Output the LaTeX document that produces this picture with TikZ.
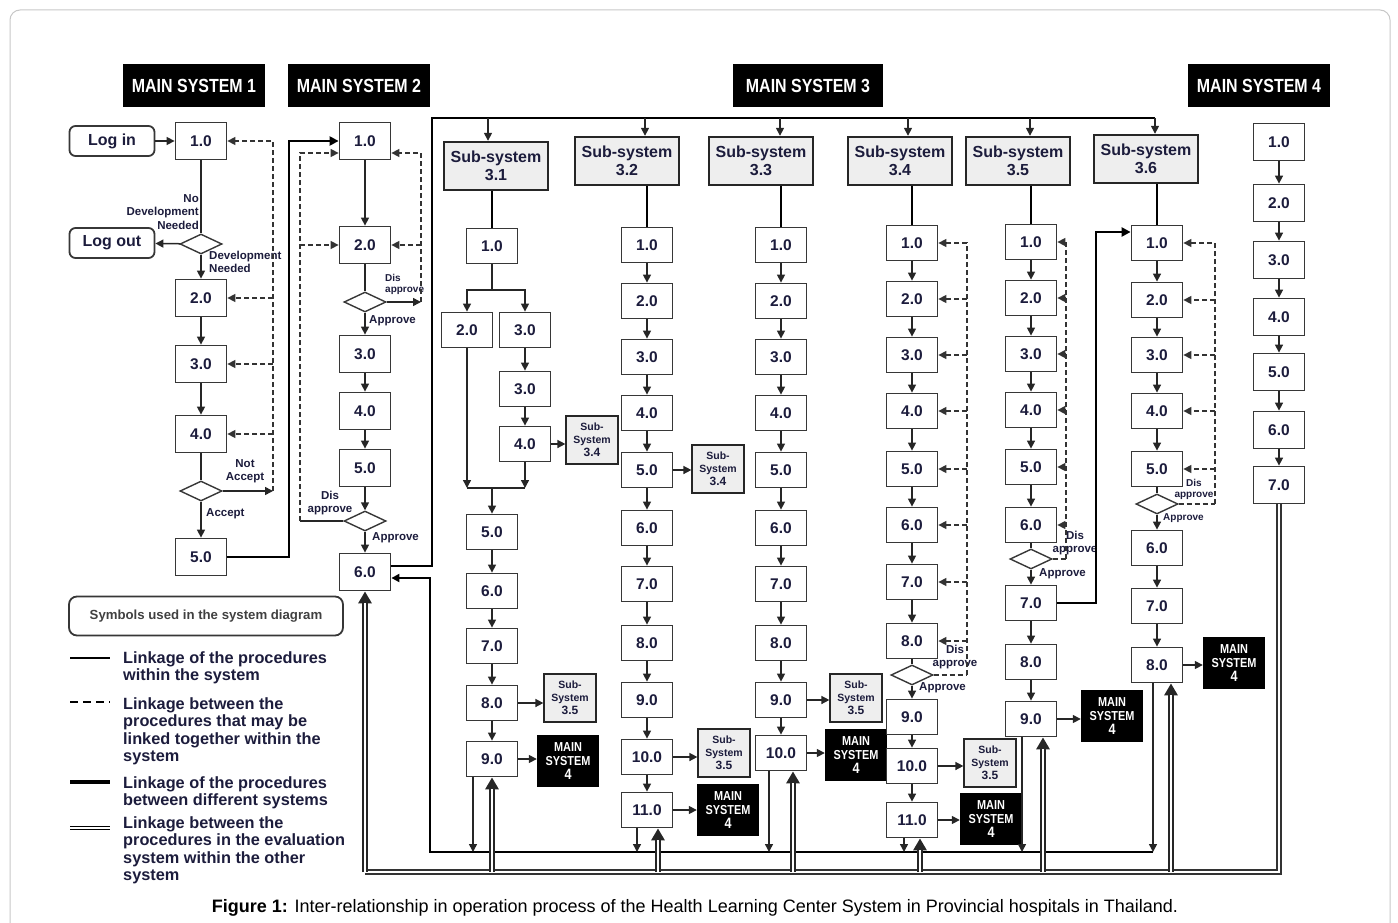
\documentclass[tikz,border=0pt]{standalone}
\usepackage{fontspec}
\setmainfont{Liberation Sans}
\newfontfamily\condfont[FakeStretch=0.84]{Liberation Sans}
\usetikzlibrary{arrows.meta,positioning,shapes.geometric,calc}
\definecolor{inktext}{RGB}{28,28,60}
\definecolor{boxline}{RGB}{55,55,55}
\definecolor{subfill}{RGB}{238,238,238}
\newcommand\fsz[2]{\fontsize{#1}{#2}\selectfont}
\tikzset{
  mainhead/.style={
    rectangle,
    fill=black,
    text=white,
    minimum width=142pt,
    minimum height=43pt,
    inner sep=0pt,
    font=\condfont\bfseries\fsz{19}{21}
  },
  proc/.style={
    rectangle,
    draw=boxline,
    line width=1.8pt,
    fill=white,
    text=inktext,
    minimum width=51pt,
    minimum height=35pt,
    inner sep=0pt,
    font=\bfseries\fsz{15.5}{17}
  },
  mproc/.style={proc, minimum height=37pt},
  subhead/.style={
    rectangle,
    draw=black!85,
    line width=2.4pt,
    fill=subfill,
    text=inktext,
    align=center,
    minimum width=104pt,
    minimum height=48pt,
    inner sep=0pt,
    font=\bfseries\fsz{16}{18}
  },
  subref/.style={
    rectangle,
    draw=black!85,
    line width=1.2pt,
    fill=subfill,
    text=inktext,
    align=center,
    minimum width=52pt,
    minimum height=48pt,
    inner sep=0pt,
    font=\bfseries\fsz{10.5}{13}
  },
  ms4ref/.style={
    rectangle,
    fill=black,
    text=white,
    align=center,
    minimum width=62pt,
    minimum height=52pt,
    inner sep=0pt,
    font=\condfont\bfseries\fsz{13}{14}
  },
  decide/.style={
    diamond,
    draw=boxline,
    line width=1.4pt,
    fill=white,
    minimum width=42pt,
    minimum height=20pt,
    inner sep=0pt
  },
  logbox/.style={
    rectangle,
    rounded corners=6pt,
    draw=boxline,
    line width=1.8pt,
    text=inktext,
    minimum width=85pt,
    minimum height=30pt,
    inner sep=0pt,
    font=\bfseries\fsz{16}{18}
  },
  note/.style={inner sep=0pt, text=inktext, align=center, font=\bfseries\fsz{11.5}{13.5}},
  smallnote/.style={note, font=\bfseries\fsz{10}{11}},
  legendtxt/.style={anchor=north west, inner sep=0pt, align=left, text=inktext, font=\bfseries\fsz{16.3}{17.6}},
  solidline/.style={line width=1.5pt, draw=black!85},
  link/.style={solidline, -{Triangle[length=8pt,width=8pt]}},
  dplain/.style={line width=1.5pt, draw=black!80, dash pattern=on 5pt off 3pt},
  dlink/.style={dplain, -{Triangle[length=8pt,width=8pt]}},
  syslink/.style={line width=2.6pt, draw=black},
  sysarrow/.style={syslink, -{Triangle[length=9pt,width=9pt]}},
  collect/.style={line width=2pt, draw=black, -{Triangle[length=8pt,width=8pt]}},
  evallink/.style={draw=black!80, line width=1.3pt, double=white, double distance=2.6pt},
  evalarrow/.style={draw=black!85, line width=5.4pt, -{Triangle[length=12pt,width=13pt]},
    postaction={draw=white, line width=2.4pt, -, shorten >=12pt}}
}

\begin{document}
\begin{tikzpicture}[x=1pt, y=-1pt]
  \useasboundingbox (0,0) rectangle (1398,923);
  \draw[black!22, line width=1pt, rounded corners=10pt] (10,10) rectangle (1390,950);

  % main system headers
  \node[mainhead] (ms1) at (194,86) {MAIN SYSTEM 1};
  \node[mainhead] (ms2) at (359,86) {MAIN SYSTEM 2};
  \node[mainhead, minimum width=150pt] (ms3) at (808,86) {MAIN SYSTEM 3};
  \node[mainhead] (ms4) at (1259,86) {MAIN SYSTEM 4};

  % main system 1
  \node[logbox] (login) at (112,141) {Log in};
  \node[mproc] (m1n1) at (201,141) {1.0};
  \node[decide] (m1d1) at (201,244) {};
  \node[logbox] (logout) at (112,243) {Log out};
  \node[mproc] (m1n2) at (201,298) {2.0};
  \node[mproc] (m1n3) at (201,364) {3.0};
  \node[mproc] (m1n4) at (201,434) {4.0};
  \node[decide] (m1d2) at (201,491) {};
  \node[mproc] (m1n5) at (201,557) {5.0};
  \node[note, anchor=east, align=right] (m1no) at (199,212) {No\\Development\\Needed};
  \node[note, anchor=west, align=left] (m1yes) at (209,262) {Development\\Needed};
  \node[note] (m1rej) at (245,471) {Not\\Accept};
  \node[note, anchor=west] (m1acc) at (206,514) {Accept};
  \coordinate (m1back) at (273,491);

  \draw[link] (login) -- (m1n1);
  \draw[solidline] (m1n1) -- (m1d1);
  \draw[link] (m1d1) -- (logout);
  \draw[link] (m1d1) -- (m1n2);
  \draw[link] (m1n2) -- (m1n3);
  \draw[link] (m1n3) -- (m1n4);
  \draw[solidline] (m1n4) -- (m1d2);
  \draw[link] (m1d2) -- (m1n5);
  \draw[link] (m1d2) -- (m1back);
  \draw[dlink] (m1back) |- (m1n1);
  \draw[dlink] (m1n2 -| m1back) -- (m1n2);
  \draw[dlink] (m1n3 -| m1back) -- (m1n3);
  \draw[dlink] (m1n4 -| m1back) -- (m1n4);

  % main system 2
  \node[mproc] (m2n1) at (365,141) {1.0};
  \node[mproc] (m2n2) at (365,245) {2.0};
  \node[decide] (m2d1) at (365,302) {};
  \node[mproc] (m2n3) at (365,354) {3.0};
  \node[mproc] (m2n4) at (365,411) {4.0};
  \node[mproc] (m2n5) at (365,468) {5.0};
  \node[decide] (m2d2) at (365,521) {};
  \node[mproc] (m2n6) at (365,572) {6.0};
  \node[smallnote, anchor=west, align=left] (m2dis1) at (385,284) {Dis\\approve};
  \node[note, anchor=west] (m2app1) at (369,321) {Approve};
  \node[note] (m2dis2) at (330,503) {Dis\\approve};
  \node[note, anchor=west] (m2app2) at (372,538) {Approve};
  \coordinate (m12) at (289,141);
  \coordinate (m2back) at (421,302);
  \coordinate (m2left) at (300,521);

  \draw[sysarrow] (m1n5) -| (m12) -- (m2n1);
  \draw[link] (m2n1) -- (m2n2);
  \draw[solidline] (m2n2) -- (m2d1);
  \draw[link] (m2d1) -- (m2n3);
  \draw[link] (m2n3) -- (m2n4);
  \draw[link] (m2n4) -- (m2n5);
  \draw[link] (m2n5) -- (m2d2);
  \draw[link] (m2d2) -- (m2n6);
  \draw[link] (m2d1) -- (m2back);
  \draw[dlink] (m2back) |- ([yshift=-12pt]m2n1.east);
  \draw[dlink] (m2n2 -| m2back) -- (m2n2);
  \draw[solidline] (m2d2) -- (m2left);
  \draw[dlink] (m2left) |- ([yshift=-12pt]m2n1.west);
  \draw[dlink] (m2n2 -| m2left) -- (m2n2);

  % main system 3: bus and sub-system headers
  \coordinate (busL) at (432,118);
  \coordinate (busR) at (1155,118);
  \coordinate (b31) at (488,118);
  \coordinate (b32) at (645,118);
  \coordinate (b33) at (780,118);
  \coordinate (b34) at (908,118);
  \coordinate (b35) at (1030,118);
  \node[subhead] (s31h) at (496,166) {Sub-system\\3.1};
  \node[subhead] (s32h) at (627,161) {Sub-system\\3.2};
  \node[subhead] (s33h) at (761,161) {Sub-system\\3.3};
  \node[subhead] (s34h) at (900,161) {Sub-system\\3.4};
  \node[subhead] (s35h) at (1018,161) {Sub-system\\3.5};
  \node[subhead] (s36h) at (1146,159) {Sub-system\\3.6};

  \draw[syslink] ([yshift=6pt]m2n6.east) -| (busL) -- (busR);
  \draw[link] (b31) -- (b31 |- s31h.north);
  \draw[link] (b32) -- (b32 |- s32h.north);
  \draw[link] (b33) -- (b33 |- s33h.north);
  \draw[link] (b34) -- (b34 |- s34h.north);
  \draw[link] (b35) -- (b35 |- s35h.north);
  \draw[link] (busR) -- (busR |- s36h.north);

  % sub-system 3.1
  \node[proc] (s31n1) at (492,246) {1.0};
  \node[proc] (s31n2) at (467,330) {2.0};
  \node[proc] (s31n3) at (525,330) {3.0};
  \node[proc] (s31n3b) at (525,389) {3.0};
  \node[proc] (s31n4) at (525,444) {4.0};
  \node[subref] (s31ref1) at (592,440) {Sub-\\System\\{\fsz{12}{13}3.4}};
  \node[proc] (s31n5) at (492,532) {5.0};
  \node[proc] (s31n6) at (492,591) {6.0};
  \node[proc] (s31n7) at (492,646) {7.0};
  \node[proc] (s31n8) at (492,703) {8.0};
  \node[proc] (s31n9) at (492,759) {9.0};
  \node[subref] (s31ref2) at (570,698) {Sub-\\System\\{\fsz{12}{13}3.5}};
  \node[ms4ref] (s31ms4) at (568,761) {MAIN\\SYSTEM\\{\fsz{15}{15}4}};
  \coordinate (s31fork) at (492,290);
  \coordinate (s31join) at (492,488);

  \draw[syslink] (s31n1 |- s31h.south) -- (s31n1);
  \draw[solidline] (s31n1) -- (s31fork);
  \draw[link] (s31fork) -| (s31n2);
  \draw[link] (s31fork) -| (s31n3);
  \draw[link] (s31n3) -- (s31n3b);
  \draw[link] (s31n3b) -- (s31n4);
  \draw[link] (s31n4) -- (s31n4 -| s31ref1.west);
  \draw[link] (s31n2) -- (s31n2 |- s31join);
  \draw[link] (s31n4) -- (s31n4 |- s31join);
  \draw[solidline] (s31n2 |- s31join) -- (s31n4 |- s31join);
  \draw[link] (s31join) -- (s31n5);
  \draw[link] (s31n5) -- (s31n6);
  \draw[link] (s31n6) -- (s31n7);
  \draw[link] (s31n7) -- (s31n8);
  \draw[link] (s31n8) -- (s31n9);
  \draw[link] (s31n8) -- (s31n8 -| s31ref2.west);
  \draw[link] (s31n9) -- (s31n9 -| s31ms4.west);

  % sub-system 3.2
  \node[proc] (s32n1) at (647,245) {1.0};
  \node[proc] (s32n2) at (647,301) {2.0};
  \node[proc] (s32n3) at (647,357) {3.0};
  \node[proc] (s32n4) at (647,413) {4.0};
  \node[proc] (s32n5) at (647,470) {5.0};
  \node[subref] (s32ref1) at (718,469) {Sub-\\System\\{\fsz{12}{13}3.4}};
  \node[proc] (s32n6) at (647,528) {6.0};
  \node[proc] (s32n7) at (647,584) {7.0};
  \node[proc] (s32n8) at (647,643) {8.0};
  \node[proc] (s32n9) at (647,700) {9.0};
  \node[proc] (s32n10) at (647,757) {10.0};
  \node[subref] (s32ref2) at (724,753) {Sub-\\System\\{\fsz{12}{13}3.5}};
  \node[proc] (s32n11) at (647,810) {11.0};
  \node[ms4ref] (s32ms4) at (728,810) {MAIN\\SYSTEM\\{\fsz{15}{15}4}};

  \draw[syslink] (s32n1 |- s32h.south) -- (s32n1);
  \draw[link] (s32n1) -- (s32n2);
  \draw[link] (s32n2) -- (s32n3);
  \draw[link] (s32n3) -- (s32n4);
  \draw[link] (s32n4) -- (s32n5);
  \draw[link] (s32n5) -- (s32n6);
  \draw[link] (s32n6) -- (s32n7);
  \draw[link] (s32n7) -- (s32n8);
  \draw[link] (s32n8) -- (s32n9);
  \draw[link] (s32n9) -- (s32n10);
  \draw[link] (s32n10) -- (s32n11);
  \draw[link] (s32n5) -- (s32n5 -| s32ref1.west);
  \draw[link] (s32n10) -- (s32n10 -| s32ref2.west);
  \draw[link] (s32n11) -- (s32n11 -| s32ms4.west);

  % sub-system 3.3
  \node[proc] (s33n1) at (781,245) {1.0};
  \node[proc] (s33n2) at (781,301) {2.0};
  \node[proc] (s33n3) at (781,357) {3.0};
  \node[proc] (s33n4) at (781,413) {4.0};
  \node[proc] (s33n5) at (781,470) {5.0};
  \node[proc] (s33n6) at (781,528) {6.0};
  \node[proc] (s33n7) at (781,584) {7.0};
  \node[proc] (s33n8) at (781,643) {8.0};
  \node[proc] (s33n9) at (781,700) {9.0};
  \node[subref] (s33ref) at (856,698) {Sub-\\System\\{\fsz{12}{13}3.5}};
  \node[proc] (s33n10) at (781,753) {10.0};
  \node[ms4ref] (s33ms4) at (856,755) {MAIN\\SYSTEM\\{\fsz{15}{15}4}};

  \draw[syslink] (s33n1 |- s33h.south) -- (s33n1);
  \draw[link] (s33n1) -- (s33n2);
  \draw[link] (s33n2) -- (s33n3);
  \draw[link] (s33n3) -- (s33n4);
  \draw[link] (s33n4) -- (s33n5);
  \draw[link] (s33n5) -- (s33n6);
  \draw[link] (s33n6) -- (s33n7);
  \draw[link] (s33n7) -- (s33n8);
  \draw[link] (s33n8) -- (s33n9);
  \draw[link] (s33n9) -- (s33n10);
  \draw[link] (s33n9) -- (s33n9 -| s33ref.west);
  \draw[link] (s33n10) -- (s33n10 -| s33ms4.west);

  % sub-system 3.4
  \node[proc] (s34n1) at (912,243) {1.0};
  \node[proc] (s34n2) at (912,299) {2.0};
  \node[proc] (s34n3) at (912,355) {3.0};
  \node[proc] (s34n4) at (912,411) {4.0};
  \node[proc] (s34n5) at (912,469) {5.0};
  \node[proc] (s34n6) at (912,525) {6.0};
  \node[proc] (s34n7) at (912,582) {7.0};
  \node[proc] (s34n8) at (912,641) {8.0};
  \node[decide] (s34d) at (912,675) {};
  \node[proc] (s34n9) at (912,717) {9.0};
  \node[proc] (s34n10) at (912,766) {10.0};
  \node[subref] (s34ref) at (990,763) {Sub-\\System\\{\fsz{12}{13}3.5}};
  \node[proc] (s34n11) at (912,820) {11.0};
  \node[ms4ref] (s34ms4) at (991,819) {MAIN\\SYSTEM\\{\fsz{15}{15}4}};
  \node[note] (s34dis) at (955,657) {Dis\\approve};
  \node[note, anchor=west] (s34app) at (919,688) {Approve};
  \coordinate (s34back) at (967,675);

  \draw[syslink] (s34n1 |- s34h.south) -- (s34n1);
  \draw[link] (s34n1) -- (s34n2);
  \draw[link] (s34n2) -- (s34n3);
  \draw[link] (s34n3) -- (s34n4);
  \draw[link] (s34n4) -- (s34n5);
  \draw[link] (s34n5) -- (s34n6);
  \draw[link] (s34n6) -- (s34n7);
  \draw[link] (s34n7) -- (s34n8);
  \draw[solidline] (s34n8) -- (s34d);
  \draw[link] (s34d) -- (s34n9);
  \draw[link] (s34n9) -- (s34n10);
  \draw[link] (s34n10) -- (s34n11);
  \draw[link] (s34n10) -- (s34n10 -| s34ref.west);
  \draw[link] (s34n11) -- (s34n11 -| s34ms4.west);
  \draw[dplain] (s34d) -- (s34back);
  \draw[dlink] (s34back) |- (s34n1);
  \draw[dlink] (s34n2 -| s34back) -- (s34n2);
  \draw[dlink] (s34n3 -| s34back) -- (s34n3);
  \draw[dlink] (s34n4 -| s34back) -- (s34n4);
  \draw[dlink] (s34n5 -| s34back) -- (s34n5);
  \draw[dlink] (s34n6 -| s34back) -- (s34n6);
  \draw[dlink] (s34n7 -| s34back) -- (s34n7);
  \draw[dlink] (s34n8 -| s34back) -- (s34n8);

  % sub-system 3.5
  \node[proc] (s35n1) at (1031,242) {1.0};
  \node[proc] (s35n2) at (1031,298) {2.0};
  \node[proc] (s35n3) at (1031,354) {3.0};
  \node[proc] (s35n4) at (1031,410) {4.0};
  \node[proc] (s35n5) at (1031,467) {5.0};
  \node[proc] (s35n6) at (1031,525) {6.0};
  \node[decide] (s35d) at (1031,559) {};
  \node[proc] (s35n7) at (1031,603) {7.0};
  \node[proc] (s35n8) at (1031,662) {8.0};
  \node[proc] (s35n9) at (1031,719) {9.0};
  \node[ms4ref] (s35ms4) at (1112,716) {MAIN\\SYSTEM\\{\fsz{15}{15}4}};
  \node[note] (s35dis) at (1075,543) {Dis\\approve};
  \node[note, anchor=west] (s35app) at (1039,574) {Approve};
  \coordinate (s35back) at (1066,559);
  \coordinate (s56) at (1096,603);

  \draw[syslink] (s35n1 |- s35h.south) -- (s35n1);
  \draw[link] (s35n1) -- (s35n2);
  \draw[link] (s35n2) -- (s35n3);
  \draw[link] (s35n3) -- (s35n4);
  \draw[link] (s35n4) -- (s35n5);
  \draw[link] (s35n5) -- (s35n6);
  \draw[solidline] (s35n6) -- (s35d);
  \draw[link] (s35d) -- (s35n7);
  \draw[link] (s35n7) -- (s35n8);
  \draw[link] (s35n8) -- (s35n9);
  \draw[link] (s35n9) -- (s35n9 -| s35ms4.west);
  \draw[dplain] (s35d) -- (s35back);
  \draw[dlink] (s35back) |- (s35n1);
  \draw[dlink] (s35n2 -| s35back) -- (s35n2);
  \draw[dlink] (s35n3 -| s35back) -- (s35n3);
  \draw[dlink] (s35n4 -| s35back) -- (s35n4);
  \draw[dlink] (s35n5 -| s35back) -- (s35n5);
  \draw[dlink] (s35n6 -| s35back) -- (s35n6);

  % sub-system 3.6
  \node[proc] (s36n1) at (1157,243) {1.0};
  \node[proc] (s36n2) at (1157,300) {2.0};
  \node[proc] (s36n3) at (1157,355) {3.0};
  \node[proc] (s36n4) at (1157,411) {4.0};
  \node[proc] (s36n5) at (1157,469) {5.0};
  \node[decide] (s36d) at (1157,504) {};
  \node[proc] (s36n6) at (1157,548) {6.0};
  \node[proc] (s36n7) at (1157,606) {7.0};
  \node[proc] (s36n8) at (1157,665) {8.0};
  \node[ms4ref] (s36ms4) at (1234,663) {MAIN\\SYSTEM\\{\fsz{15}{15}4}};
  \node[smallnote] (s36dis) at (1194,489) {Dis\\approve};
  \node[smallnote, anchor=west] (s36app) at (1163,518) {Approve};
  \coordinate (s36back) at (1215,504);

  \draw[syslink] (s36n1 |- s36h.south) -- (s36n1);
  \draw[sysarrow] (s35n7) -- (s56) |- ([yshift=11pt]s36n1.west);
  \draw[link] (s36n1) -- (s36n2);
  \draw[link] (s36n2) -- (s36n3);
  \draw[link] (s36n3) -- (s36n4);
  \draw[link] (s36n4) -- (s36n5);
  \draw[solidline] (s36n5) -- (s36d);
  \draw[link] (s36d) -- (s36n6);
  \draw[link] (s36n6) -- (s36n7);
  \draw[link] (s36n7) -- (s36n8);
  \draw[link] (s36n8) -- (s36n8 -| s36ms4.west);
  \draw[dplain] (s36d) -- (s36back);
  \draw[dlink] (s36back) |- (s36n1);
  \draw[dlink] (s36n2 -| s36back) -- (s36n2);
  \draw[dlink] (s36n3 -| s36back) -- (s36n3);
  \draw[dlink] (s36n4 -| s36back) -- (s36n4);
  \draw[dlink] (s36n5 -| s36back) -- (s36n5);

  % main system 4
  \node[mproc] (m4n1) at (1279,142) {1.0};
  \node[mproc] (m4n2) at (1279,203) {2.0};
  \node[mproc] (m4n3) at (1279,260) {3.0};
  \node[mproc] (m4n4) at (1279,317) {4.0};
  \node[mproc] (m4n5) at (1279,372) {5.0};
  \node[mproc] (m4n6) at (1279,430) {6.0};
  \node[mproc] (m4n7) at (1279,485) {7.0};
  \draw[link] (m4n1) -- (m4n2);
  \draw[link] (m4n2) -- (m4n3);
  \draw[link] (m4n3) -- (m4n4);
  \draw[link] (m4n4) -- (m4n5);
  \draw[link] (m4n5) -- (m4n6);
  \draw[link] (m4n6) -- (m4n7);

  % return lines at the bottom
  \coordinate (colL) at (430,852);
  \coordinate (colR) at (1153,852);
  \coordinate (evL) at (365,872);
  \coordinate (evR) at (1279,872);
  \draw[collect] (colR) -- (colL) |- ([yshift=-6pt]m2n6.east);
  \draw[link] ([xshift=-19pt]s31n9.south) -- ([xshift=-19pt]s31n9.south |- colL);
  \draw[link] ([xshift=-10pt]s32n11.south) -- ([xshift=-10pt]s32n11.south |- colL);
  \draw[link] ([xshift=-12pt]s33n10.south) -- ([xshift=-12pt]s33n10.south |- colL);
  \draw[link] ([xshift=-8pt]s34n11.south) -- ([xshift=-8pt]s34n11.south |- colL);
  \draw[link] ([xshift=-9pt]s35n9.south) -- ([xshift=-9pt]s35n9.south |- colL);
  \draw[link] ([xshift=-4pt]s36n8.south) -- ([xshift=-4pt]s36n8.south |- colL);

  \draw[evallink] (m4n7) -- (evR) -- (evL);
  \draw[evalarrow] (evL) -- (m2n6);
  \draw[evalarrow] (s31n9 |- evL) -- (s31n9);
  \draw[evalarrow] ([xshift=11pt]s32n11.south |- evL) -- ([xshift=11pt]s32n11.south);
  \draw[evalarrow] ([xshift=12pt]s33n10.south |- evL) -- ([xshift=12pt]s33n10.south);
  \draw[evalarrow] ([xshift=8pt]s34n11.south |- evL) -- ([xshift=8pt]s34n11.south);
  \draw[evalarrow] ([xshift=12pt]s35n9.south |- evL) -- ([xshift=12pt]s35n9.south);
  \draw[evalarrow] ([xshift=14pt]s36n8.south |- evL) -- ([xshift=14pt]s36n8.south);

  % legend
  \node[logbox, minimum width=274pt, minimum height=39pt, rounded corners=8pt,
        text=black!75, font=\bfseries\fsz{13.2}{15}] (legendhead) at (206,616) {Symbols used in the system diagram};
  \coordinate (lg1a) at (70,658);
  \coordinate (lg1b) at (110,658);
  \coordinate (lg2a) at (70,702);
  \coordinate (lg2b) at (110,702);
  \coordinate (lg3a) at (70,782);
  \coordinate (lg3b) at (110,782);
  \coordinate (lg4a) at (70,828);
  \coordinate (lg4b) at (110,828);
  \draw[line width=1.2pt] (lg1a) -- (lg1b);
  \draw[line width=1.2pt, dash pattern=on 8pt off 5pt] (lg2a) -- (lg2b);
  \draw[line width=4pt] (lg3a) -- (lg3b);
  \draw[line width=1.1pt, double=white, double distance=2.6pt] (lg4a) -- (lg4b);
  \node[legendtxt] (lgt1) at (123,651) {Linkage of the procedures\\within the system};
  \node[legendtxt] (lgt2) at (123,697) {Linkage between the\\procedures that may be\\linked together within the\\system};
  \node[legendtxt] (lgt3) at (123,776) {Linkage of the procedures\\between different systems};
  \node[legendtxt] (lgt4) at (123,816) {Linkage between the\\procedures in the evaluation\\system within the other\\system};

  % caption
  \node[font=\fsz{18}{20}] (caption) at (695,908) {\textbf{Figure 1:} Inter-relationship in operation process of the Health Learning Center System in Provincial hospitals in Thailand.};
\end{tikzpicture}
\end{document}
